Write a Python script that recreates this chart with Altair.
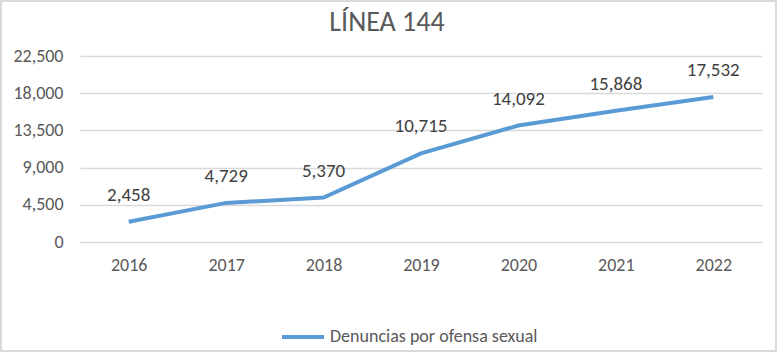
import altair as alt
import pandas as pd

years = ["2016", "2017", "2018", "2019", "2020", "2021", "2022"]
values = [2458, 4729, 5370, 10715, 14092, 15868, 17532]
series = "Denuncias por ofensa sexual"
y_ticks = [0, 4500, 9000, 13500, 18000, 22500]
title_text = "LÍNEA 144"

df = pd.DataFrame({"year": years, "value": values, "serie": [series] * len(years)})
title_df = pd.DataFrame({"t": [title_text]})

FONT = "Carlito, Lato, sans-serif"
BLUE = "#5B9BD5"

x = alt.X("year:O", title=None, sort=years,
          scale=alt.Scale(paddingInner=1, paddingOuter=0.5),
          axis=alt.Axis(labelAngle=0, ticks=False, domain=False, labelPadding=14,
                        labelFontSize=18, labelColor="#595959", labelFont=FONT))
y = alt.Y("value:Q", title=None,
          scale=alt.Scale(domain=[0, 22500], nice=False),
          axis=alt.Axis(values=y_ticks, format=",.0f", ticks=False, domain=False,
                        labelPadding=17, labelFontSize=18, labelColor="#595959",
                        labelFont=FONT, gridColor="#D9D9D9", gridWidth=1.5))

line = alt.Chart(df).mark_line(strokeWidth=4).encode(
    x=x, y=y,
    color=alt.Color("serie:N", scale=alt.Scale(range=[BLUE]),
                    legend=alt.Legend(title=None, orient="none", legendX=200, legendY=258,
                                      symbolType="stroke", symbolSize=1764,
                                      symbolStrokeWidth=4, labelFontSize=18,
                                      labelColor="#595959", labelFont=FONT,
                                      labelOffset=4, labelLimit=0)),
)

labels = alt.Chart(df).mark_text(fontSize=19, color="#404040", font=FONT,
                                 baseline="bottom", dy=-17).encode(
    x=x, y=y,
    text=alt.Text("value:Q", format=","))

title = alt.Chart(title_df).mark_text(fontSize=28, color="#595959", font=FONT,
                                      align="center", baseline="middle").encode(
    x=alt.value(307), y=alt.value(-33), text="t:N")

border = alt.Chart(df).mark_rect(fill=None, stroke="#D9D9D9", strokeWidth=2).encode(
    x=alt.value(-79), x2=alt.value(696), y=alt.value(-55), y2=alt.value(295))

chart = alt.layer(line, labels, title, border).properties(
    width=682, height=186,
    autosize=alt.AutoSizeParams(type="none"),
    padding={"left": 80, "top": 56, "right": 15, "bottom": 110},
    background="white",
).configure_view(stroke=None)

chart.save("out.html", embed_options={"renderer": "svg", "actions": False})
